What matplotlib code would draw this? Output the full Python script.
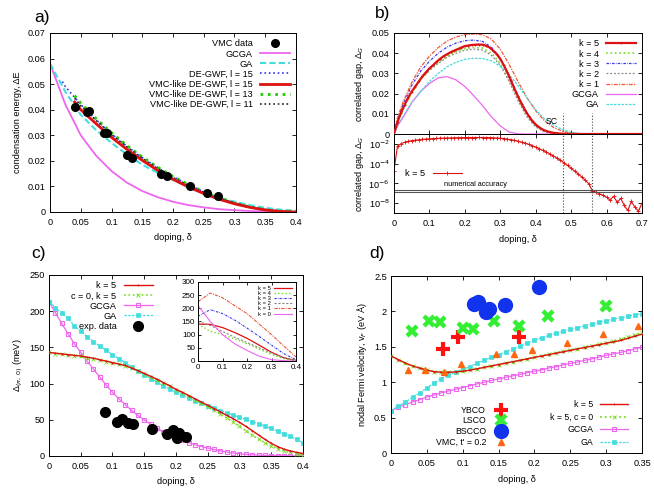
import matplotlib.pyplot as plt
import numpy as np
from matplotlib.ticker import FixedLocator, MultipleLocator, NullLocator

plt.rcParams['font.family'] = ['Liberation Sans', 'DejaVu Sans']
plt.rcParams['font.size'] = 6.6
plt.rcParams['xtick.direction'] = 'in'
plt.rcParams['ytick.direction'] = 'in'
plt.rcParams['xtick.top'] = True
plt.rcParams['ytick.right'] = True
plt.rcParams['xtick.major.size'] = 3
plt.rcParams['ytick.major.size'] = 3
plt.rcParams['xtick.major.width'] = 0.6
plt.rcParams['ytick.major.width'] = 0.6
plt.rcParams['axes.linewidth'] = 0.7
plt.rcParams['xtick.major.pad'] = 4
plt.rcParams['ytick.major.pad'] = 3

RED = '#dd1111'
GREEN = '#77dd22'
BLUE = '#3333ee'
GREY = '#888888'
ORANGE = '#ee5533'
MAGENTA = '#ee66ee'
CYAN = '#44dddd'

# ---------------- panel a: condensation energy ----------------
vmc_dop = [0.041, 0.060, 0.064, 0.088, 0.092, 0.125, 0.133, 0.180, 0.190, 0.228, 0.255, 0.274]
vmc_dE = [0.0412, 0.0392, 0.0395, 0.031, 0.0308, 0.0223, 0.0213, 0.0147, 0.0142, 0.0102, 0.0073, 0.0062]

dop_a = [0, 0.025, 0.05, 0.075, 0.1, 0.125, 0.15, 0.175, 0.2, 0.225, 0.25, 0.275, 0.3, 0.325, 0.35, 0.375, 0.4]
gcga_a = [0.058, 0.042, 0.030, 0.022, 0.016, 0.0115, 0.0082, 0.0058, 0.004, 0.0027, 0.0018,
          0.0011, 0.0007, 0.0004, 0.0002, 0.0001, 0.0]
ga_a = [0.058, 0.047, 0.038, 0.032, 0.027, 0.0225, 0.0185, 0.0153, 0.0125, 0.0099, 0.0076,
        0.0056, 0.004, 0.0027, 0.0016, 0.0009, 0.0005]

dop_de = [0.02, 0.025, 0.05, 0.075, 0.1, 0.125, 0.15, 0.175, 0.2, 0.225, 0.25, 0.275, 0.3, 0.325, 0.35, 0.375, 0.4]
de15 = [0.051, 0.049, 0.042, 0.036, 0.0305, 0.0257, 0.0213, 0.0174, 0.0138, 0.0107, 0.0079,
        0.0055, 0.0036, 0.002, 0.0009, 0.0003, 0.0]

dop_vl = [0.04, 0.05, 0.075, 0.1, 0.125, 0.15, 0.175, 0.2, 0.225, 0.25, 0.275, 0.3, 0.325, 0.35, 0.375, 0.4]
vl15 = [0.043, 0.040, 0.0345, 0.0292, 0.0245, 0.0202, 0.0163, 0.0128, 0.0098, 0.0072, 0.005,
        0.0032, 0.0018, 0.0008, 0.0002, 0.0]
vl13 = [0.0455, 0.0425, 0.0365, 0.031, 0.026, 0.0215, 0.0175, 0.0139, 0.0107, 0.0079, 0.0055,
        0.0035, 0.002, 0.0009, 0.0002, 0.0]
vl11 = [0.0445, 0.0415, 0.0358, 0.0303, 0.0255, 0.021, 0.017, 0.0135, 0.0104, 0.0077, 0.0054,
        0.0035, 0.002, 0.0009, 0.0002, 0.0]

# ---------------- panel b: correlated gap ----------------
dop_b = [0, 0.01, 0.025, 0.05, 0.075, 0.1, 0.125, 0.15, 0.175, 0.2, 0.225, 0.25, 0.275, 0.3,
         0.325, 0.35, 0.375, 0.4, 0.425, 0.45, 0.475, 0.5, 0.525, 0.55, 0.6, 0.7]
gap_k4 = [0, 0.0055, 0.012, 0.0205, 0.027, 0.0315, 0.0355, 0.0385, 0.041, 0.0423, 0.0428, 0.0425,
          0.040, 0.035, 0.027, 0.0175, 0.0095, 0.004, 0.0015, 0.0004, 0, 0, 0, 0, 0, 0]
gap_k3 = [0, 0.007, 0.0145, 0.024, 0.031, 0.036, 0.040, 0.043, 0.045, 0.0462, 0.0465, 0.0458,
          0.043, 0.0375, 0.029, 0.019, 0.0105, 0.0045, 0.0015, 0.0004, 0, 0, 0, 0, 0, 0]
gap_k2 = [0, 0.006, 0.0125, 0.021, 0.027, 0.0315, 0.035, 0.038, 0.040, 0.0415, 0.042, 0.0415,
          0.039, 0.034, 0.026, 0.0165, 0.0085, 0.0035, 0.001, 0.0003, 0, 0, 0, 0, 0, 0]
gap_k1 = [0, 0.008, 0.0155, 0.0255, 0.033, 0.0385, 0.0428, 0.046, 0.048, 0.0492, 0.0495, 0.0492,
          0.047, 0.042, 0.0345, 0.026, 0.018, 0.0115, 0.0065, 0.0033, 0.0014, 0.0005, 0.0001, 0, 0, 0]
gap_gcga = [0, 0.004, 0.008, 0.0155, 0.021, 0.025, 0.0278, 0.0284, 0.0268, 0.0235, 0.019, 0.014,
            0.0085, 0.004, 0.001, 0.0001, 0, 0, 0, 0, 0, 0, 0, 0, 0, 0]
gap_ga = [0, 0.004, 0.0085, 0.0155, 0.021, 0.026, 0.030, 0.0333, 0.0355, 0.037, 0.0375, 0.0373,
          0.0362, 0.0335, 0.0295, 0.024, 0.018, 0.012, 0.0075, 0.0045, 0.0022, 0.0008, 0.0002, 0, 0, 0]

# k = 5 on a 0.01 grid (used for both linear and log view)
dop_k5 = np.round(np.arange(0, 0.705, 0.01), 2)
gap_k5 = [2e-5, 0.006, 0.0105, 0.0145, 0.018, 0.021, 0.0235, 0.026, 0.0285, 0.0305,
          0.0325, 0.034, 0.0357, 0.0372, 0.0385, 0.0395, 0.0405, 0.0413, 0.042, 0.0428,
          0.0435, 0.0438, 0.0441, 0.0442, 0.0443, 0.0442, 0.0437, 0.0428, 0.0413, 0.0395,
          0.0372, 0.034, 0.0305, 0.0265, 0.0225, 0.0186, 0.015, 0.0118, 0.009, 0.0066,
          0.0047, 0.0033, 0.0022, 0.0015, 9.5e-4, 6e-4, 3.7e-4, 2.2e-4, 1.2e-4, 6.5e-5,
          3.5e-5, 1.8e-5, 9e-6, 4.5e-6, 2.1e-6, 9e-7, 1.8e-7, 1.3e-7, 9e-8, 6e-8,
          4e-8, 2e-8, 5e-8, 1.2e-8, 3e-8, 6e-9, 1.8e-9, 1.5e-8, 4e-9, 1.5e-9, 1e-8]
accuracy = [2.3e-7, 1.3e-7]
sc_bounds = [0.476, 0.56]

# ---------------- panel c: gap at (pi, 0) ----------------
dop_c = np.round(np.arange(0, 0.405, 0.01), 2)
c_k5 = [143, 142, 141, 140, 139, 138, 136.5, 135, 133, 131, 129, 127, 125, 121.5, 118, 114,
        110, 106, 101.5, 97, 92, 88, 83.5, 79, 74.5, 70, 65.5, 61, 56, 51.5, 46.5, 41, 35,
        29, 23, 17.5, 13, 9.5, 7, 5, 3.5]
c_c0k5 = [143, 141.5, 140.5, 139.5, 138.5, 137.5, 136, 134.5, 132.5, 130.5, 128.5, 126.5,
          124.5, 121, 117.5, 113.5, 109.5, 105.5, 101, 96.5, 91.5, 87, 82.5, 78, 73, 68, 63,
          58, 52.5, 47, 41, 35, 29, 23.5, 18.5, 14, 10, 7, 5, 3, 2]
c_gcga = [213, 198, 183, 169, 155, 143, 131, 120, 109, 98, 88, 79, 71, 63, 56, 50, 44, 38.5,
          33.5, 29, 25, 21.5, 18.5, 15.5, 13, 11, 9, 7, 5.5, 4, 3, 2.2, 1.6, 1.1, 0.8, 0.5,
          0.3, 0.2, 0.1, 0.05, 0]
c_ga = [213, 205, 197, 190, 180, 172, 165, 158, 152, 146, 140, 134.5, 129, 123, 117, 112, 107,
        102, 97, 92.5, 88, 84, 80, 76, 72.5, 69, 66, 62.5, 59.5, 56.5, 53.5, 50.5, 47.5, 44.5,
        41.5, 38, 34.5, 31, 27, 23, 18]
exp_dop = [0.088, 0.107, 0.115, 0.124, 0.132, 0.163, 0.186, 0.195, 0.201, 0.204, 0.216]
exp_gap = [61, 47, 51, 46, 44, 37, 30, 36, 25, 32, 26]

dop_in = [0, 0.05, 0.1, 0.15, 0.2, 0.25, 0.3, 0.35, 0.4]
in_k5 = [140, 139, 127, 108, 86, 60, 33, 12, 2]
in_k4 = [140, 113, 100, 84, 65, 45, 25, 9, 1]
in_k3 = [170, 195, 180, 155, 125, 93, 60, 28, 5]
in_k2 = [150, 135, 112, 90, 70, 50, 30, 12, 1]
in_k1 = [225, 258, 240, 210, 180, 140, 100, 57, 15]
in_k0 = [210, 150, 100, 65, 40, 18, 5, 1, 0]

# ---------------- panel d: nodal Fermi velocity ----------------
dop_d = np.round(np.arange(0, 0.355, 0.01), 2)
d_k5 = [1.37, 1.32, 1.27, 1.23, 1.20, 1.17, 1.15, 1.14, 1.14, 1.145, 1.155, 1.17, 1.19, 1.21,
        1.23, 1.25, 1.27, 1.29, 1.31, 1.33, 1.35, 1.37, 1.39, 1.41, 1.43, 1.45, 1.47, 1.49,
        1.51, 1.53, 1.55, 1.57, 1.59, 1.62, 1.65, 1.68]
d_k5c0 = [1.37, 1.32, 1.27, 1.23, 1.20, 1.17, 1.15, 1.14, 1.14, 1.145, 1.155, 1.17, 1.19, 1.21,
          1.23, 1.25, 1.27, 1.29, 1.31, 1.33, 1.355, 1.375, 1.395, 1.415, 1.435, 1.455, 1.475,
          1.495, 1.515, 1.535, 1.56, 1.58, 1.61, 1.64, 1.67, 1.70]
d_gcga = [0.60, 0.645, 0.685, 0.72, 0.755, 0.79, 0.82, 0.85, 0.875, 0.90, 0.925, 0.95, 0.975,
          1.0, 1.025, 1.045, 1.07, 1.09, 1.11, 1.135, 1.155, 1.175, 1.20, 1.22, 1.245, 1.265,
          1.285, 1.31, 1.33, 1.355, 1.38, 1.40, 1.42, 1.445, 1.47, 1.495]
d_ga = [0.60, 0.66, 0.72, 0.785, 0.85, 0.92, 0.99, 1.05, 1.10, 1.14, 1.18, 1.22, 1.27, 1.31,
        1.355, 1.39, 1.43, 1.47, 1.51, 1.555, 1.59, 1.63, 1.66, 1.69, 1.72, 1.745, 1.77, 1.795,
        1.82, 1.845, 1.87, 1.89, 1.91, 1.93, 1.95, 1.97]
ybco_dop = [0.073, 0.093, 0.178]
ybco_vf = [1.47, 1.64, 1.64]
lsco_dop = [0.029, 0.053, 0.068, 0.100, 0.115, 0.144, 0.179, 0.219, 0.300]
lsco_vf = [1.73, 1.87, 1.85, 1.77, 1.75, 1.86, 1.80, 1.94, 2.08]
bscco_dop = [0.116, 0.121, 0.133, 0.137, 0.159, 0.206]
bscco_vf = [2.10, 2.14, 1.99, 2.04, 2.09, 2.34]
vmc_d_dop = [0.024, 0.048, 0.074, 0.097, 0.146, 0.172, 0.196, 0.246, 0.295, 0.344]
vmc_d_vf = [1.17, 1.17, 1.15, 1.26, 1.40, 1.40, 1.46, 1.55, 1.68, 1.80]

fig = plt.figure(figsize=(6.54, 4.88), dpi=100)

leg_kw = dict(frameon=False, markerfirst=False, handlelength=3.2, labelspacing=0.12,
              borderaxespad=0.3, handletextpad=0.8)
fmt = plt.FuncFormatter(lambda v, p: f'{v:g}')

# ----- a -----
ax = fig.add_axes([0.0765, 0.5656, 0.376, 0.3668])
ax.plot(vmc_dop, vmc_dE, 'o', color='black', ms=5.5, label='VMC data', zorder=5)
ax.plot(dop_a, gcga_a, '-', color=MAGENTA, lw=1.3, label='GCGA')
ax.plot(dop_a, ga_a, '--', color=CYAN, lw=1.5, dashes=(3, 1.5), label='GA')
ax.plot(dop_de, de15, ':', color=BLUE, lw=1.2, label='DE-GWF, l = 15')
ax.plot(dop_vl, vl15, '-', color=RED, lw=2.0, label='VMC-like DE-GWF, l = 15', zorder=4)
ax.plot(dop_vl, vl13, ':', color='#22cc00', lw=2.0, label='VMC-like DE-GWF, l = 13', zorder=3)
ax.plot(dop_vl, vl11, ':', color='#222222', lw=1.2, label='VMC-like DE-GWF, l = 11', zorder=3)
ax.set_xlim(0, 0.4)
ax.set_ylim(0, 0.07)
ax.xaxis.set_major_locator(MultipleLocator(0.05))
ax.yaxis.set_major_locator(MultipleLocator(0.01))
ax.xaxis.set_major_formatter(fmt)
ax.yaxis.set_major_formatter(fmt)
ax.set_xlabel('doping, δ', labelpad=5)
ax.set_ylabel('condensation energy, ΔE', labelpad=4)
ax.legend(loc='upper right', fontsize=6.6, **leg_kw)
fig.text(0.052, 0.965, 'a)', fontsize=12.5, va='center')

# ----- b top -----
ax = fig.add_axes([0.6024, 0.7254, 0.3792, 0.207])
ax.plot(dop_k5, gap_k5, '-', color=RED, lw=1.6, marker='+', ms=2, mew=0.6, label='k = 5', zorder=5)
ax.plot(dop_b, gap_k4, ':', color=GREEN, lw=1.2, label='k = 4')
ax.plot(dop_b, gap_k3, linestyle=(0, (2, 1, 0.5, 1)), color=BLUE, lw=0.9, label='k = 3')
ax.plot(dop_b, gap_k2, linestyle=(0, (1.5, 1.5)), color=GREY, lw=0.9, label='k = 2')
ax.plot(dop_b, gap_k1, linestyle=(0, (3, 1, 1, 1)), color=ORANGE, lw=0.9, label='k = 1')
ax.plot(dop_b, gap_gcga, '-', color=MAGENTA, lw=0.9, label='GCGA')
ax.plot(dop_b, gap_ga, '--', color=CYAN, lw=0.9, dashes=(2, 1), label='GA')
for xb in sc_bounds:
    ax.plot([xb, xb], [0, 0.0105], ':', color='#444444', lw=0.8)
ax.text(0.445, 0.0062, 'SC', fontsize=6.3, ha='center', va='center')
ax.set_xlim(0, 0.7)
ax.set_ylim(0, 0.05)
ax.xaxis.set_major_locator(MultipleLocator(0.1))
ax.yaxis.set_major_locator(MultipleLocator(0.01))
ax.tick_params(labelbottom=False)
ax.yaxis.set_major_formatter(fmt)
ax.set_ylabel('correlated gap, Δ$_G$', labelpad=4)
ax.legend(loc='upper right', fontsize=6.6, **leg_kw)
fig.text(0.573, 0.972, 'b)', fontsize=12.5, va='center')

# ----- b bottom (log) -----
ax = fig.add_axes([0.6024, 0.5635, 0.3792, 0.1619])
ax.plot(dop_k5, gap_k5, '-', color=RED, lw=0.8, marker='+', ms=2.5, mew=0.6, label='k = 5')
for acc in accuracy:
    ax.axhline(acc, color='#555555', lw=0.8)
for xb in sc_bounds:
    ax.axvline(xb, color='#444444', lw=0.8, ls=':')
ax.text(0.14, 7e-7, 'numerical accuracy', fontsize=5.3, ha='left', va='center')
ax.set_yscale('log')
ax.set_xlim(0, 0.7)
ax.set_ylim(1e-9, 0.1)
ax.xaxis.set_major_locator(MultipleLocator(0.1))
ax.xaxis.set_major_formatter(fmt)
ax.yaxis.set_major_locator(FixedLocator([1e-2, 1e-4, 1e-6, 1e-8]))
ax.yaxis.set_minor_locator(NullLocator())
ax.set_yticklabels(['10$^{-2}$', '10$^{-4}$', '10$^{-6}$', '10$^{-8}$'])
ax.set_xlabel('doping, δ', labelpad=5)
ax.set_ylabel('correlated gap, Δ$_G$', labelpad=2)
ax.legend(loc='center left', bbox_to_anchor=(0.03, 0.5), fontsize=6.6, frameon=False,
          markerfirst=False, handlelength=3.2, handletextpad=0.8, borderaxespad=0)

# ----- c -----
ax = fig.add_axes([0.0749, 0.0656, 0.3884, 0.3709])
ax.plot(dop_c, c_k5, '-', color=RED, lw=1.0, marker='+', ms=2, mew=0.6, label='k = 5', zorder=4)
ax.plot(dop_c, c_c0k5, ':', color=GREEN, lw=1.2, marker='x', ms=2.2, mew=0.6, label='c = 0, k = 5', zorder=3)
ax.plot(dop_c, c_gcga, '-', color=MAGENTA, lw=0.9, marker='s', ms=3, mfc='none', mew=0.8, label='GCGA')
ax.plot(dop_c, c_ga, '--', color=CYAN, lw=0.9, dashes=(2, 1), marker='s', ms=2.2, mew=0.5, label='GA')
ax.plot(exp_dop, exp_gap, 'o', color='black', ms=7, label='exp. data', zorder=6)
ax.set_xlim(0, 0.4)
ax.set_ylim(0, 250)
ax.xaxis.set_major_locator(MultipleLocator(0.05))
ax.yaxis.set_major_locator(MultipleLocator(50))
ax.xaxis.set_major_formatter(fmt)
ax.set_xlabel('doping, δ', labelpad=5)
ax.set_ylabel('Δ$_{(\\pi,\\ 0)}$ (meV)', labelpad=3)
ax.legend(loc='upper right', bbox_to_anchor=(0.435, 1.0), fontsize=6.6, **leg_kw)
fig.text(0.048, 0.48, 'c)', fontsize=12.5, va='center')

# inset
ax = fig.add_axes([0.3028, 0.2603, 0.1498, 0.1619])
ax.plot(dop_in, in_k5, '-', color=RED, lw=0.9, label='k = 5')
ax.plot(dop_in, in_k4, ':', color=GREEN, lw=1.0, label='k = 4')
ax.plot(dop_in, in_k3, linestyle=(0, (2, 1, 0.5, 1)), color=BLUE, lw=0.8, label='k = 3')
ax.plot(dop_in, in_k2, linestyle=(0, (2, 1.5)), color=GREY, lw=0.8, label='k = 2')
ax.plot(dop_in, in_k1, linestyle=(0, (3, 1, 1, 1)), color=ORANGE, lw=0.8, label='k = 1')
ax.plot(dop_in, in_k0, '-', color=MAGENTA, lw=0.8, label='k = 0')
ax.set_xlim(0, 0.4)
ax.set_ylim(0, 300)
ax.xaxis.set_major_locator(MultipleLocator(0.1))
ax.yaxis.set_major_locator(MultipleLocator(50))
ax.xaxis.set_major_formatter(fmt)
ax.tick_params(labelsize=5.8, length=2, pad=2)
ax.legend(loc='upper right', fontsize=4.2, frameon=False, markerfirst=False,
          handlelength=3.0, labelspacing=0.0, borderaxespad=0.3, handletextpad=0.6)

# ----- d -----
ax = fig.add_axes([0.5979, 0.0717, 0.3838, 0.3627])
h1 = ax.plot(ybco_dop, ybco_vf, '+', color='#ff1111', ms=10, mew=3, label='YBCO', zorder=6)
h2 = ax.plot(lsco_dop, lsco_vf, 'x', color='#33ee33', ms=7, mew=3.2, label='LSCO', zorder=6)
h3 = ax.plot(bscco_dop, bscco_vf, 'o', color='#1133ee', ms=10, label='BSCCO', zorder=6)
h4 = ax.plot(vmc_d_dop, vmc_d_vf, '^', color='#ff6611', ms=4.5, label="VMC, t' = 0.2", zorder=6)
h5 = ax.plot(dop_d, d_k5, '-', color=RED, lw=1.0, marker='+', ms=2, mew=0.6, label='k = 5', zorder=4)
h6 = ax.plot(dop_d, d_k5c0, ':', color=GREEN, lw=1.3, marker='x', ms=2.2, mew=0.6, label='k = 5, c = 0', zorder=3)
h7 = ax.plot(dop_d, d_gcga, '-', color=MAGENTA, lw=0.9, marker='s', ms=3, mfc='none', mew=0.8, label='GCGA')
h8 = ax.plot(dop_d, d_ga, '--', color=CYAN, lw=0.9, dashes=(2, 1), marker='s', ms=2.2, mew=0.5, label='GA')
ax.set_xlim(0, 0.35)
ax.set_ylim(0, 2.5)
ax.xaxis.set_major_locator(MultipleLocator(0.05))
ax.yaxis.set_major_locator(MultipleLocator(0.5))
ax.xaxis.set_major_formatter(fmt)
ax.yaxis.set_major_formatter(fmt)
ax.set_xlabel('doping, δ', labelpad=5)
ax.set_ylabel('nodal Fermi velocity, v$_F$ (eV Å)', labelpad=4)
leg1 = ax.legend(handles=h1 + h2 + h3 + h4, loc='lower right', bbox_to_anchor=(0.49, 0.0),
                 fontsize=6.3, frameon=False, markerfirst=False, handlelength=1.5,
                 labelspacing=0.2, handletextpad=1.0, borderaxespad=0.3)
ax.add_artist(leg1)
ax.legend(handles=h5 + h6 + h7 + h8, loc='lower right', bbox_to_anchor=(0.97, 0.0),
          fontsize=6.3, frameon=False, markerfirst=False, handlelength=3.2,
          labelspacing=0.4, handletextpad=0.8, borderaxespad=0.3)
fig.text(0.565, 0.48, 'd)', fontsize=12.5, va='center')

fig.savefig('out.png', dpi=100)
